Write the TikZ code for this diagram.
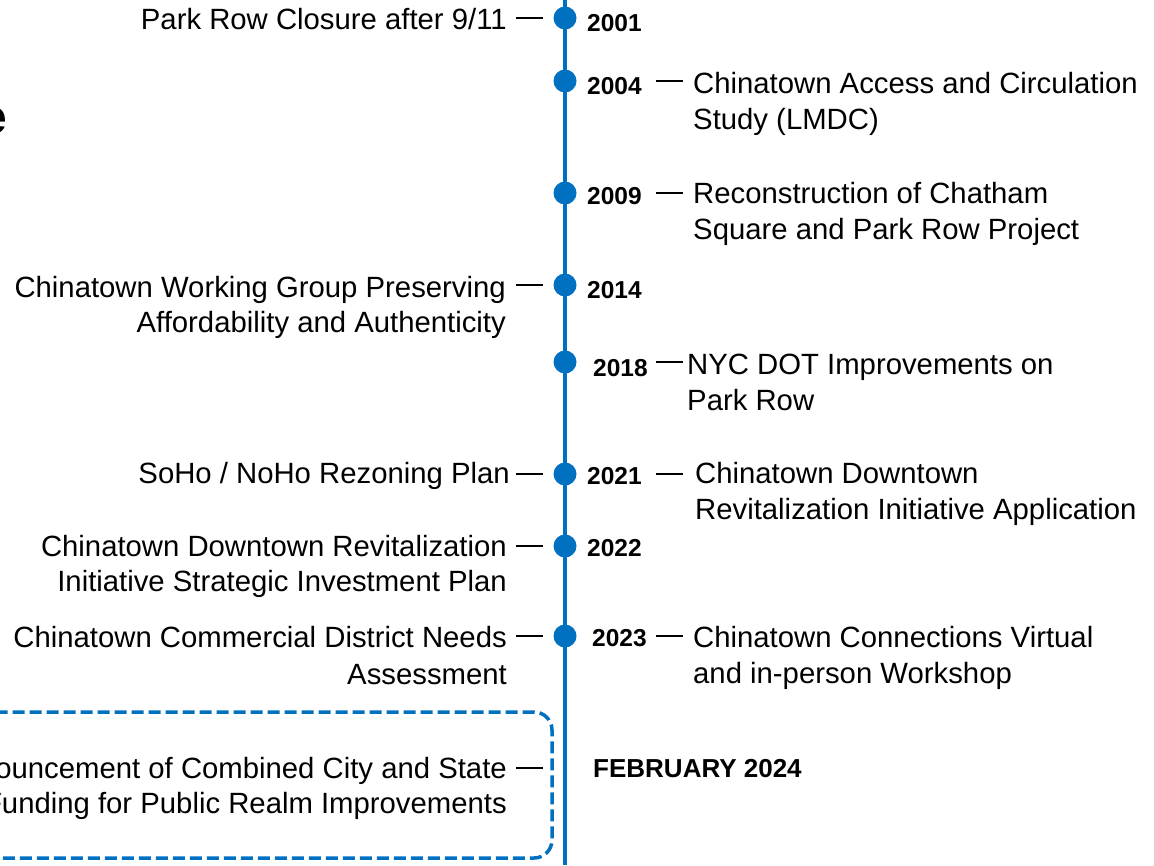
\documentclass[tikz,border=0pt]{standalone}
\usepackage{fontspec}
\setmainfont{Liberation Sans}
\definecolor{tlblue}{RGB}{0,112,192}
\begin{document}
\begin{tikzpicture}[x=1pt,y=-1pt,
  dot/.style={circle,fill=tlblue,inner sep=0pt,minimum size=23pt},
  yr/.style={font=\fontsize{24.5}{28}\selectfont\bfseries,inner sep=0pt,anchor=base west},
  lt/.style={font=\fontsize{29.3}{36}\selectfont,inner sep=0pt,anchor=base east},
  rt/.style={font=\fontsize{29.3}{36}\selectfont,inner sep=0pt,anchor=base west},
  tick/.style={line width=2pt,black},
  axis/.style={line width=4pt,tlblue},
  box/.style={tlblue,line width=3.5pt,dash pattern=on 12pt off 5pt,rounded corners=18pt}
]
\useasboundingbox (0,0) rectangle (1154,865);
\clip (0,0) rectangle (1154,865);

% partial title
\node[font=\fontsize{48}{52}\selectfont\bfseries,inner sep=0pt,anchor=base east] (title) at (7,133) {e};

% axis
\coordinate (top) at (565,0);
\coordinate (bot) at (565,865);
\draw[axis] (top) -- (bot);

% highlighted box
\draw[box] (-30,712) rectangle (552,858);

% dots
\node[dot] (d2001) at (565,18) {};
\node[dot] (d2004) at (565,81) {};
\node[dot] (d2009) at (565,193) {};
\node[dot] (d2014) at (565,285) {};
\node[dot] (d2018) at (565,362) {};
\node[dot] (d2021) at (565,474) {};
\node[dot] (d2022) at (565,546) {};
\node[dot] (d2023) at (565,636) {};
\coordinate (d2024) at (565,768);

% years
\node[yr] (y2001) at (587,31) {2001};
\node[yr] (y2004) at (587,94) {2004};
\node[yr] (y2009) at (587,204) {2009};
\node[yr] (y2014) at (587,298) {2014};
\node[yr] (y2018) at (593,376) {2018};
\node[yr] (y2021) at (587,484) {2021};
\node[yr] (y2022) at (587,556) {2022};
\node[yr] (y2023) at (592,646) {2023};
\node[yr,font=\fontsize{26}{28}\selectfont\bfseries] (y2024) at (593,777) {FEBRUARY 2024};

% left ticks
\foreach \d in {d2001,d2014,d2021,d2022,d2023,d2024}
  \draw[tick] ([xshift=-49pt]\d.center) -- ([xshift=-22pt]\d.center);
% right ticks
\foreach \d in {d2004,d2009,d2018,d2021,d2023}
  \draw[tick] ([xshift=91pt]\d.center) -- ([xshift=118pt]\d.center);

% left texts
\node[lt] (t2001) at (507,29) {Park Row Closure after 9/11};
\node[lt] (t2014a) at (506,297) {Chinatown Working Group Preserving};
\node[lt] (t2014b) at (506,332) {Affordability and Authenticity};
\node[lt] (t2021l) at (510,483) {SoHo / NoHo Rezoning Plan};
\node[lt] (t2022a) at (507,556) {Chinatown Downtown Revitalization};
\node[lt] (t2022b) at (507,591) {Initiative Strategic Investment Plan};
\node[lt] (t2023la) at (507,647) {Chinatown Commercial District Needs};
\node[lt] (t2023lb) at (507,684) {Assessment};
\node[lt] (t2024a) at (507,778) {Announcement of Combined City and State};
\node[lt] (t2024b) at (507,813) {Funding for Public Realm Improvements};

% right texts
\node[rt] (t2004a) at (693,93) {Chinatown Access and Circulation};
\node[rt] (t2004b) at (693,129) {Study (LMDC)};
\node[rt] (t2009a) at (693,203) {Reconstruction of Chatham};
\node[rt] (t2009b) at (693,239) {Square and Park Row Project};
\node[rt] (t2018a) at (687,374) {NYC DOT Improvements on};
\node[rt] (t2018b) at (687,410) {Park Row};
\node[rt] (t2021a) at (695,483) {Chinatown Downtown};
\node[rt] (t2021b) at (695,519) {Revitalization Initiative Application};
\node[rt] (t2023a) at (693,647) {Chinatown Connections Virtual};
\node[rt] (t2023b) at (693,683) {and in-person Workshop};
\end{tikzpicture}
\end{document}
